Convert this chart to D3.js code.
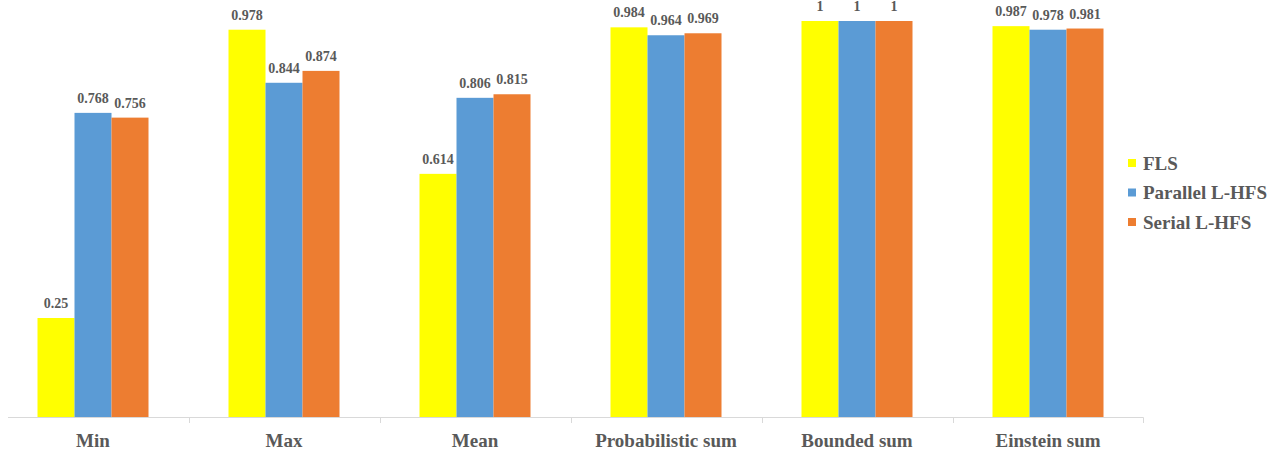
<!DOCTYPE html>
<html><head><meta charset="utf-8">
<script src="https://cdn.jsdelivr.net/npm/d3@7"></script>
<style>body{margin:0;background:#fff}svg{display:block}</style>
</head><body>
<svg id="c" width="1279" height="452"></svg>
<script>
const categories = ["Min","Max","Mean","Probabilistic sum","Bounded sum","Einstein sum"];
const seriesNames = ["FLS","Parallel L-HFS","Serial L-HFS"];
const fls = [0.25,0.978,0.614,0.984,1,0.987];
const parallel = [0.768,0.844,0.806,0.964,1,0.978];
const serial = [0.756,0.874,0.815,0.969,1,0.981];
const colors = ["#FFFF00","#5B9BD5","#ED7D31"];
const seriesVals = [fls, parallel, serial];

const svg = d3.select("#c");
const x = d3.scaleBand().domain(categories).range([-2.5, 1143.5]).paddingInner(0).paddingOuter(0);
const x1 = d3.scaleBand().domain(seriesNames).range([0, 111]);
const y = d3.scaleLinear().domain([0,1]).range([417, 21]);
const textCol = "#595959";
const font = "'Liberation Serif','Times New Roman',serif";

// axis line
svg.append("line").attr("x1",8).attr("x2",1143.5).attr("y1",417.5).attr("y2",417.5)
  .attr("stroke","#d9d9d9").attr("stroke-width",1);
categories.forEach((c,i)=>{
  if(i===0) return;
  const xx = Math.round(x(c))+0.5;
  svg.append("line").attr("x1",xx).attr("x2",xx).attr("y1",417.5).attr("y2",423).attr("stroke","#d9d9d9");
});
svg.append("line").attr("x1",1143.5).attr("x2",1143.5).attr("y1",417.5).attr("y2",423).attr("stroke","#d9d9d9");

const g = svg.append("g");
categories.forEach((c,i)=>{
  const gx = x(c) + (x.bandwidth()-111)/2;
  seriesNames.forEach((s,j)=>{
    const v = seriesVals[j][i];
    g.append("rect").attr("x", gx + x1(s)).attr("width", x1.bandwidth())
      .attr("y", y(v)).attr("height", y(0)-y(v)).attr("fill", colors[j]);
    g.append("text").attr("x", gx + x1(s) + x1.bandwidth()/2).attr("y", y(v)-10)
      .attr("text-anchor","middle").attr("font-family",font).attr("font-weight","bold")
      .attr("font-size",14).attr("fill",textCol).text(String(v));
  });
  svg.append("text").attr("x", x(c)+x.bandwidth()/2).attr("y", 447)
    .attr("text-anchor","middle").attr("font-family",font).attr("font-weight","bold")
    .attr("font-size",19).attr("fill",textCol).text(c);
});

// legend
const leg = svg.append("g");
seriesNames.forEach((s,j)=>{
  const ly = 163 + j*29.5;
  leg.append("rect").attr("x",1128).attr("y",ly-4).attr("width",8).attr("height",8).attr("fill",colors[j]);
  leg.append("text").attr("x",1143).attr("y",ly+6.5).attr("font-family",font).attr("font-weight","bold")
    .attr("font-size",19).attr("fill",textCol).text(s);
});
</script>
</body></html>
